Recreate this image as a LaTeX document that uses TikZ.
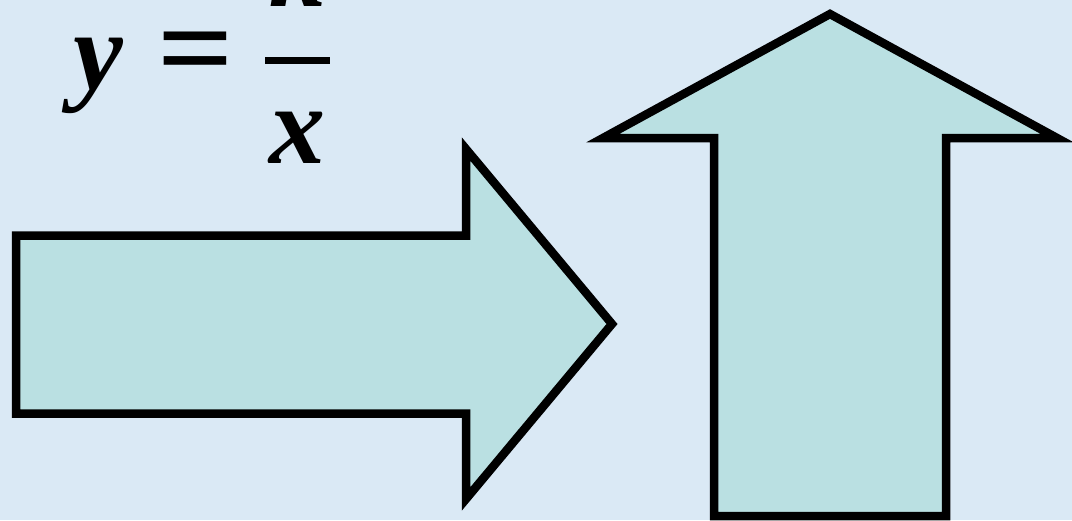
\documentclass[tikz,border=0pt]{standalone}
\usepackage{fontspec}
\setmainfont{Liberation Serif}
\definecolor{bgblue}{RGB}{218,233,245}
\definecolor{arrowfill}{RGB}{186,224,226}
\tikzset{
  bigarrow/.style={draw=black, fill=arrowfill, line width=8.5pt, line join=miter, miter limit=20},
  formula/.style={inner sep=0pt, outer sep=0pt, font=\fontsize{112}{120}\selectfont\bfseries\itshape},
  formulaup/.style={inner sep=0pt, outer sep=0pt, font=\fontsize{112}{120}\selectfont\bfseries}
}
\begin{document}
\begin{tikzpicture}[x=1pt,y=-1pt]
\useasboundingbox (0,0) rectangle (1072,520);
\clip (0,0) rectangle (1072,520);
\fill[bgblue] (0,0) rectangle (1072,520);
% right arrow
\draw[bigarrow] (16,235.5) -- (466,235.5) -- (466,149) -- (612,324) -- (466,499) -- (466,413.5) -- (16,413.5) -- cycle;
% up arrow
\draw[bigarrow] (714,516) -- (714,138) -- (603,138) -- (830,14) -- (1057,138) -- (946,138) -- (946,516) -- cycle;
% formula
\node[formula, anchor=base] (yv) at (98,89) {y};
\node[formulaup, anchor=base] (eq) at (195.5,89) {\scalebox{1.2}[1.1]{=}};
\node[fill=black, inner sep=0pt, minimum width=65pt, minimum height=7pt] (bar) at (297.5,60) {};
\node[formula, anchor=base] (xv) at (297.5,163) {x};
\node[formula, anchor=base] (kv) at (297.5,6) {k};
\end{tikzpicture}
\end{document}
